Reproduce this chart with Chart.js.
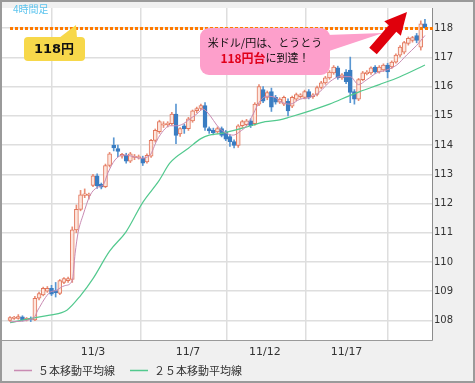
<!DOCTYPE html>
<html>
<head>
<meta charset="utf-8">
<script src="https://cdn.jsdelivr.net/npm/chart.js@4/dist/chart.umd.min.js"></script>
<style>
  html, body { margin: 0; padding: 0; background: #f0f0f0; }
</style>
</head>
<body>
<canvas id="usdjpyChart" width="475" height="383"></canvas>
<script>
// 4-hour candles, USD/JPY
const opens  = [108.00,108.07,108.07,108.12,108.02,108.06,108.02,108.76,108.87,109.00,
                109.10,109.02,108.92,109.30,109.36,109.40,111.10,111.80,112.28,112.28,
                112.62,112.95,112.66,112.58,113.30,114.00,113.88,113.62,113.66,113.45,
                113.58,113.57,113.55,113.42,113.62,114.16,114.46,114.68,114.70,114.73,
                115.06,114.38,114.66,114.56,114.83,115.18,115.25,115.35,114.56,114.50,
                114.45,114.56,114.45,114.29,114.12,113.99,114.66,114.70,114.83,114.73,
                115.40,115.90,115.63,115.83,115.63,115.47,115.40,115.50,115.33,115.57,
                115.66,115.63,115.83,115.66,115.73,115.97,116.13,116.30,116.47,116.64,
                116.30,116.50,116.57,115.83,115.57,116.24,116.44,116.47,116.67,116.50,
                116.57,116.74,116.67,116.84,117.08,117.18,117.48,117.58,117.75,117.35,
                118.15];
const highs  = [108.13,108.14,108.20,108.16,108.10,108.12,108.82,108.97,109.14,109.16,
                109.20,109.30,109.40,109.47,109.48,111.20,111.95,112.45,112.50,112.36,
                113.00,113.02,112.70,113.35,113.75,114.25,114.00,113.72,113.72,113.75,
                113.68,113.66,113.62,113.70,114.20,114.55,114.85,114.80,114.80,115.12,
                115.40,114.60,114.72,114.95,115.20,115.30,115.40,115.45,114.62,114.58,
                114.62,114.62,114.50,114.35,114.18,114.70,114.85,114.88,114.90,115.45,
                116.07,116.00,115.85,115.95,115.70,115.62,115.68,115.58,115.68,115.78,
                115.76,115.88,115.90,115.76,116.02,116.18,116.35,116.55,116.72,116.70,
                116.45,116.58,117.01,115.90,116.28,116.52,116.55,116.68,116.72,116.72,
                116.78,116.80,116.88,117.12,117.40,117.55,117.70,117.72,117.82,118.25,
                118.30];
const lows   = [107.97,108.03,108.04,107.98,107.98,107.96,107.99,108.70,108.84,108.96,
                108.85,108.80,108.88,109.26,109.30,109.30,111.00,111.75,112.20,112.15,
                112.58,112.52,112.50,112.54,113.25,113.80,113.60,113.55,113.38,113.40,
                113.50,113.52,113.30,113.38,113.58,114.10,114.40,114.60,114.62,114.68,
                114.05,114.30,114.40,114.50,114.78,115.10,115.20,114.50,114.40,114.35,
                114.40,114.28,114.15,113.95,113.90,113.92,114.60,114.65,114.60,114.68,
                115.35,115.45,115.55,115.15,115.40,115.42,115.35,115.00,115.28,115.52,
                115.60,115.58,115.58,115.60,115.68,115.92,116.08,116.25,116.42,116.25,
                116.25,116.10,115.45,115.40,115.52,116.20,116.40,116.42,116.45,116.46,
                116.52,116.30,116.62,116.80,117.02,117.12,117.42,117.52,117.50,117.25,
                118.00];
const closes = [108.10,108.11,108.13,108.01,108.07,108.03,108.76,108.92,109.10,109.10,
                108.90,108.95,109.36,109.43,109.43,111.10,111.80,112.30,112.33,112.32,
                112.95,112.60,112.56,113.30,113.70,113.90,113.78,113.68,113.45,113.70,
                113.62,113.61,113.38,113.65,114.16,114.50,114.80,114.73,114.75,115.06,
                114.33,114.56,114.55,114.90,115.17,115.25,115.35,114.60,114.48,114.42,
                114.56,114.33,114.20,114.12,113.99,114.66,114.80,114.83,114.66,115.40,
                116.00,115.50,115.80,115.30,115.47,115.57,115.63,115.17,115.63,115.73,
                115.72,115.83,115.63,115.72,115.97,116.13,116.30,116.50,116.67,116.30,
                116.40,116.17,115.80,115.57,116.24,116.47,116.50,116.64,116.50,116.67,
                116.74,116.50,116.84,117.08,117.35,117.51,117.65,117.68,117.58,118.15,
                118.02];

// moving averages, sampled at candle positions
const ma5Pos  = [0,5.7,6.7,9.6,11,13.2,15,15.7,16.4,17.6,19.3,21,22.5,23.6,25.3,27.3,29.4,31.3,
                 33.7,35.4,37,38.5,40.2,41.8,43.4,45,46.5,47.5,50.6,53.8,55.4,57,58.6,60.2,
                 61.9,63.9,65,67.5,69.9,72.3,74.7,77.1,79.5,82,84,86,88.4,90.8,93.2,95.6,98,100];
const ma5Vals = [107.95,108.08,108.35,108.96,109.02,109.19,109.36,110.3,111.0,111.6,112.28,112.55,
                 112.65,113.05,113.49,113.66,113.62,113.55,113.65,114.16,114.5,114.66,114.66,
                 114.73,114.9,115.06,115.23,115.13,114.56,114.34,114.46,114.66,115.06,115.5,
                 115.67,115.63,115.5,115.4,115.57,115.63,115.83,116.17,116.34,116.34,116.07,
                 116.24,116.47,116.57,116.74,117.08,117.41,117.75];
const ma25Pos  = [0,5.5,9.6,13.7,17,20,24,28,32,36,38.5,43,46,48,50.6,54,58,61.5,65,67.5,
                  72.3,77,82,84.3,89,94,100];
const ma25Vals = [107.92,108.08,108.18,108.35,108.85,109.43,110.37,111.04,112.04,112.8,113.38,
                  113.89,114.22,114.34,114.39,114.5,114.66,114.8,114.86,114.96,115.17,115.4,
                  115.7,115.83,116.07,116.34,116.74];

const xTickPos    = [0.25, 20, 42.9, 61.4, 81.1];
const xTickLabels = ['', '11/3', '11/7', '11/12', '11/17'];
const yTicks      = [108, 109, 110, 111, 112, 113, 114, 115, 116, 117, 118];
const targetLevel = 118;

const upColor = '#e2765b', upFill = '#fde6de', downColor = '#3a7dc2';
const isUp = closes.map((c, i) => c >= opens[i]);

const wickData = opens.map((o, i) => ({ x: i, y: [lows[i], highs[i]] }));
const bodyData = opens.map((o, i) => ({ x: i, y: [o, closes[i]] }));
const ma5Data  = ma5Pos.map((p, i) => ({ x: p, y: ma5Vals[i] }));
const ma25Data = ma25Pos.map((p, i) => ({ x: p, y: ma25Vals[i] }));

function roundRectPath(ctx, x, y, w, h, r) {
    ctx.moveTo(x + r, y);
    ctx.arcTo(x + w, y, x + w, y + h, r);
    ctx.arcTo(x + w, y + h, x, y + h, r);
    ctx.arcTo(x, y + h, x, y, r);
    ctx.arcTo(x, y, x + w, y, r);
    ctx.closePath();
}

// background, frame, target line, callouts, legend
const decorations = {
    id: 'decorations',
    beforeDraw(chart) {
        const { ctx, chartArea: a } = chart;
        ctx.save();
        ctx.fillStyle = '#f0f0f0';
        ctx.fillRect(0, 0, chart.width, chart.height);
        ctx.fillStyle = '#ffffff';
        ctx.fillRect(a.left, a.top, a.right - a.left, a.bottom - a.top);
        ctx.restore();
    },
    afterDatasetsDraw(chart) {
        const { ctx, chartArea: a } = chart;
        const y = Math.round(chart.scales.y.getPixelForValue(targetLevel)) + 0.5;
        ctx.save();
        ctx.strokeStyle = '#ff7a00';
        ctx.lineWidth = 3;
        ctx.setLineDash([3, 2]);
        ctx.beginPath();
        ctx.moveTo(10, y);
        ctx.lineTo(a.right + 2, y);
        ctx.stroke();
        ctx.restore();
    },
    afterDraw(chart) {
        const { ctx } = chart;
        ctx.save();

        // outer frame
        ctx.strokeStyle = '#9a9a9a';
        ctx.lineWidth = 2;
        ctx.strokeRect(1, 1, chart.width - 2, chart.height - 2);

        // timeframe label
        ctx.fillStyle = '#5cc4ee';
        ctx.font = '10px "Noto Sans CJK JP"';
        ctx.textBaseline = 'middle';
        ctx.textAlign = 'left';
        ctx.fillText('4時間足', 13, 9);

        // yellow callout
        ctx.fillStyle = '#f7d84a';
        ctx.beginPath();
        roundRectPath(ctx, 24, 37, 61, 24, 4);
        ctx.fill();
        ctx.beginPath();
        ctx.moveTo(59, 38);
        ctx.lineTo(76, 25);
        ctx.lineTo(77, 38);
        ctx.closePath();
        ctx.fill();
        ctx.fillStyle = '#111';
        ctx.font = 'bold 13px "DejaVu Sans", "Noto Sans CJK JP"';
        ctx.textAlign = 'center';
        ctx.fillText('118円', 54, 49.5);

        // pink callout
        ctx.fillStyle = '#fd9fcb';
        ctx.beginPath();
        roundRectPath(ctx, 200, 28, 130, 47, 9);
        ctx.fill();
        ctx.beginPath();
        ctx.moveTo(326, 35);
        ctx.lineTo(383, 33);
        ctx.lineTo(326, 52);
        ctx.closePath();
        ctx.fill();
        ctx.fillStyle = '#111';
        ctx.font = '11px "Noto Sans CJK JP"';
        ctx.fillText('米ドル/円は、とうとう', 265, 43);
        const boldFont = 'bold 12px "Noto Sans CJK JP"';
        const normFont = '11px "Noto Sans CJK JP"';
        ctx.font = boldFont;
        const w1 = ctx.measureText('118円台').width;
        ctx.font = normFont;
        const w2 = ctx.measureText('に到達！').width;
        let x0 = 265 - (w1 + w2) / 2;
        ctx.textAlign = 'left';
        ctx.font = boldFont;
        ctx.fillStyle = '#e0001a';
        ctx.fillText('118円台', x0, 58);
        ctx.font = normFont;
        ctx.fillStyle = '#111';
        ctx.fillText('に到達！', x0 + w1, 58);

        // red arrow
        const tail = [373, 51], tip = [407, 12];
        const dx = tip[0] - tail[0], dy = tip[1] - tail[1];
        const len = Math.hypot(dx, dy);
        const ux = dx / len, uy = dy / len, nx = -uy, ny = ux;
        const headLen = 22, headHalf = 11, shaftHalf = 5;
        const bx = tip[0] - ux * headLen, by = tip[1] - uy * headLen;
        ctx.fillStyle = '#e0000c';
        ctx.beginPath();
        ctx.moveTo(tail[0] + nx * shaftHalf, tail[1] + ny * shaftHalf);
        ctx.lineTo(bx + nx * shaftHalf, by + ny * shaftHalf);
        ctx.lineTo(bx + nx * headHalf, by + ny * headHalf);
        ctx.lineTo(tip[0], tip[1]);
        ctx.lineTo(bx - nx * headHalf, by - ny * headHalf);
        ctx.lineTo(bx - nx * shaftHalf, by - ny * shaftHalf);
        ctx.lineTo(tail[0] - nx * shaftHalf, tail[1] - ny * shaftHalf);
        ctx.closePath();
        ctx.fill();

        // legend for the moving averages
        let lx = 14;
        const ly = 370.5;
        ctx.font = '11px "Noto Sans CJK JP"';
        ctx.textBaseline = 'middle';
        ctx.textAlign = 'left';
        chart.data.datasets.filter(d => d.type === 'line').forEach(d => {
            ctx.strokeStyle = d.borderColor;
            ctx.lineWidth = 1.5;
            ctx.beginPath();
            ctx.moveTo(lx, ly);
            ctx.lineTo(lx + 18, ly);
            ctx.stroke();
            ctx.fillStyle = '#333';
            ctx.fillText(d.label, lx + 24, ly);
            lx += 24 + ctx.measureText(d.label).width + 15;
        });
        ctx.restore();
    }
};

new Chart(document.getElementById('usdjpyChart'), {
    type: 'bar',
    data: {
        datasets: [
            {
                label: 'wick',
                data: wickData,
                barThickness: 1,
                grouped: false,
                backgroundColor: isUp.map(u => u ? '#e98e76' : '#5a97d2'),
                order: 3
            },
            {
                label: 'body',
                data: bodyData,
                barThickness: 4,
                grouped: false,
                minBarLength: 1,
                borderWidth: 1,
                borderSkipped: false,
                backgroundColor: isUp.map(u => u ? upFill : downColor),
                borderColor: isUp.map(u => u ? upColor : downColor),
                order: 2
            },
            {
                type: 'line',
                label: '５本移動平均線',
                data: ma5Data,
                borderColor: '#c98bb3',
                borderWidth: 1,
                pointRadius: 0,
                cubicInterpolationMode: 'monotone',
                order: 1
            },
            {
                type: 'line',
                label: '２５本移動平均線',
                data: ma25Data,
                borderColor: '#52c98e',
                borderWidth: 1.2,
                pointRadius: 0,
                cubicInterpolationMode: 'monotone',
                order: 1
            }
        ]
    },
    options: {
        responsive: false,
        animation: false,
        events: [],
        layout: { padding: { top: 2, left: 2, right: 0, bottom: 22 } },
        plugins: {
            legend: { display: false },
            tooltip: { enabled: false }
        },
        scales: {
            x: {
                type: 'linear',
                min: -1.93,
                max: 101.7,
                offset: false,
                afterBuildTicks: s => { s.ticks = xTickPos.map(v => ({ value: v })); },
                afterFit: s => { s.height = 21; },
                grid: { color: '#dedede', lineWidth: 1.5, drawTicks: false },
                border: { display: true, color: '#9a9a9a', width: 1 },
                ticks: {
                    autoSkip: false,
                    maxRotation: 0,
                    padding: 6,
                    color: '#333',
                    font: { family: '"DejaVu Sans"', size: 11 },
                    callback: (v, i) => xTickLabels[i]
                }
            },
            y: {
                position: 'right',
                min: 107.33,
                max: 118.69,
                afterBuildTicks: s => { s.ticks = yTicks.map(v => ({ value: v })); },
                afterFit: s => { s.width = 43; },
                grid: { color: '#dedede', lineWidth: 1.5, drawTicks: false },
                border: { display: true, color: '#8c8c8c', width: 1 },
                ticks: {
                    padding: 2,
                    color: '#333',
                    font: { family: '"DejaVu Sans"', size: 10 },
                    callback: v => v
                }
            }
        }
    },
    plugins: [decorations]
});
</script>
</body>
</html>
